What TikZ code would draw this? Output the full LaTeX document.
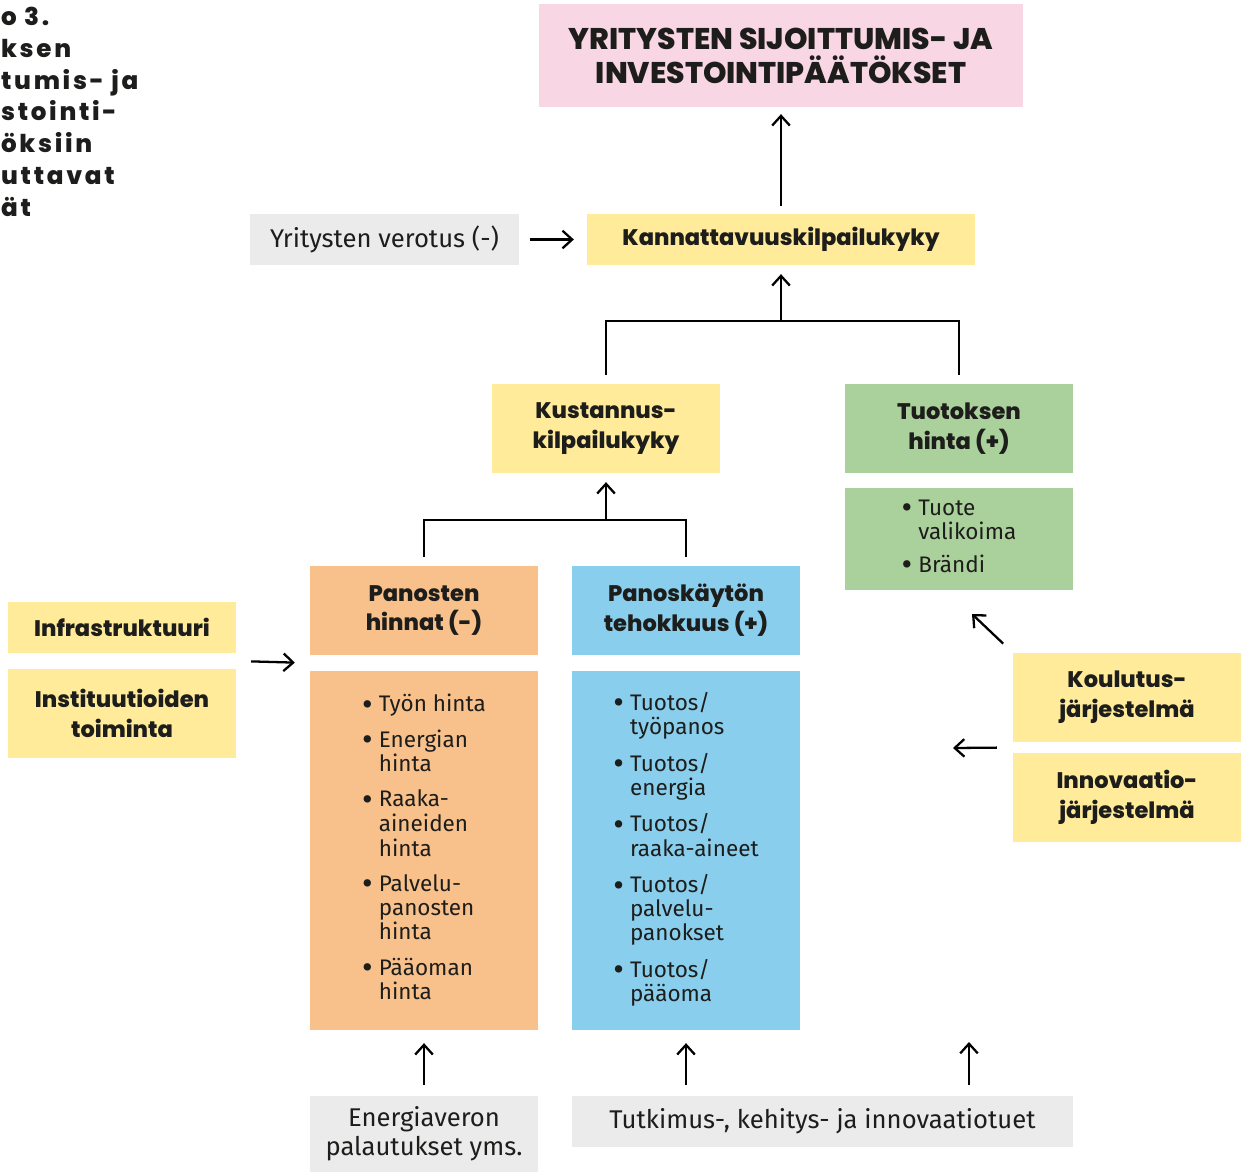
\documentclass[tikz,border=0pt]{standalone}
\usepackage{fontspec}
\usepackage{graphicx}
\setmainfont{Fira Sans}
\IfFontExistsTF{Poppins ExtraBold}
  {\newfontfamily\headfont{Poppins ExtraBold}
   \newfontfamily\titlefont{Poppins ExtraBold}[LetterSpace=11]}
  {\newfontfamily\headfontbase{Poppins}
   \newfontfamily\titlefontbase{Poppins}[LetterSpace=11]
   \newcommand{\headfont}{\headfontbase\bfseries}
   \newcommand{\titlefont}{\titlefontbase\bfseries}}
\usepackage{tikz}
\usetikzlibrary{
  arrows.meta,
  positioning,
  calc
}
\usepackage{xcolor}
\definecolor{pinkBox}{RGB}{248,214,228}
\definecolor{yellowBox}{RGB}{255,235,153}
\definecolor{greenBox}{RGB}{170,208,155}
\definecolor{orangeBox}{RGB}{248,193,139}
\definecolor{blueBox}{RGB}{137,206,236}
\definecolor{grayBox}{RGB}{235,235,235}
\definecolor{ink}{RGB}{29,29,27}
\newcommand{\bul}{\raisebox{-2pt}{\scalebox{1.45}{\textbullet}}}
\tikzset{
  box/.style={
    inner sep=0pt,
    align=center,
    text=ink,
    minimum width=4.56cm,
    minimum height=1.78cm,
    font=\headfont\fontsize{12.8}{17}\selectfont
  },
  listbox/.style={
    box,
    font=\fontsize{12.8}{13.6}\selectfont
  },
  plainbox/.style={
    box,
    fill=grayBox,
    font=\fontsize{14.6}{16.4}\selectfont
  }
}

\begin{document}
\begin{tikzpicture}[
      >={Straight Barb[length=5.5pt,width=10pt]},
      line width=1.3pt
      ]
      \useasboundingbox (0,0) rectangle (24.84,-23.46);

      \node[anchor=north west, inner sep=0pt, align=left, text=ink,
        font=\titlefont\fontsize{14}{18.1}\selectfont] (title) at (0,-0.12)
        {o 3.\\ksen\\tumis- ja\\stointi-\\öksiin\\uttavat\\ät};

      % top
      \node[box, fill=pinkBox, minimum width=9.68cm, minimum height=2.06cm,
        font=\headfont\fontsize{17}{19.4}\selectfont] (goal) at (15.62,-1.11)
        {YRITYSTEN SIJOITTUMIS- JA\\INVESTOINTIPÄÄTÖKSET};
      \node[box, fill=yellowBox, minimum width=7.76cm, minimum height=1.02cm] (kan) at (15.62,-4.79) {Kannattavuuskilpailukyky};
      \node[plainbox, minimum width=5.38cm, minimum height=1.02cm] (tax) at (7.69,-4.79) {Yritysten verotus (-)};

      % middle
      \node[box, fill=yellowBox] (kust) at (12.12,-8.57) {Kustannus-\\kilpailukyky};
      \node[box, fill=greenBox] (hinta) at (19.18,-8.57) {Tuotoksen\\hinta (+)};
      \node[listbox, fill=greenBox, minimum height=2.04cm] (brand) at (19.18,-10.78) {%
        \begin{tabular}{@{}l@{\hspace{3.5pt}}l@{}}
        \bul & Tuote\\ & valikoima\\[4.5pt]
        \bul & Brändi
        \end{tabular}};

      \node[box, fill=orangeBox] (panh) at (8.48,-12.21) {Panosten\\hinnat (-)};
      \node[box, fill=blueBox] (pank) at (13.72,-12.21) {Panoskäytön\\tehokkuus (+)};
      \node[listbox, fill=orangeBox, minimum height=7.18cm] (costlist) at (8.48,-17.01) {%
        \begin{tabular}{@{}l@{\hspace{3.5pt}}l@{}}
        \bul & Työn hinta\\[6.2pt]
        \bul & Energian\\ & hinta\\[6.2pt]
        \bul & Raaka-\\ & aineiden\\ & hinta\\[6.2pt]
        \bul & Palvelu-\\ & panosten\\ & hinta\\[6.2pt]
        \bul & Pääoman\\ & hinta
        \end{tabular}};
      \node[listbox, fill=blueBox, minimum height=7.18cm] (efflist) at (13.72,-17.01) {%
        \begin{tabular}{@{}l@{\hspace{3.5pt}}l@{}}
        \bul & Tuotos/\\ & työpanos\\[6.2pt]
        \bul & Tuotos/\\ & energia\\[6.2pt]
        \bul & Tuotos/\\ & raaka-aineet\\[6.2pt]
        \bul & Tuotos/\\ & palvelu-\\ & panokset\\[6.2pt]
        \bul & Tuotos/\\ & pääoma
        \end{tabular}};

      % sides
      \node[box, fill=yellowBox, minimum height=1.02cm] (infra) at (2.44,-12.55) {Infrastruktuuri};
      \node[box, fill=yellowBox] (inst) at (2.44,-14.27) {Instituutioiden\\toiminta};
      \node[box, fill=yellowBox] (koul) at (22.54,-13.95) {Koulutus-\\järjestelmä};
      \node[box, fill=yellowBox] (innov) at (22.54,-15.95) {Innovaatio-\\järjestelmä};

      % bottom
      \node[plainbox, minimum height=1.52cm] (energ) at (8.48,-22.68) {Energiaveron\\palautukset yms.};
      \node[plainbox, minimum width=10.02cm, minimum height=1.02cm] (tuki) at (16.45,-22.43) {Tutkimus-, kehitys- ja innovaatiotuet};

      \coordinate (join1) at ([yshift=-1.1cm]kan.south);
      \coordinate (join2) at ([yshift=-0.92cm]kust.south);
      \coordinate (innotip) at (19.06,-14.96);
      \coordinate (prodtip) at (19.44,-12.28);
      \coordinate (tukitip) at (19.38,-20.84);

      % connectors
      \draw[->, shorten <=0.14cm, shorten >=0.12cm] (kan) -- (goal);
      \draw[->, shorten <=0.2cm, shorten >=0.24cm] (tax) -- (kan);
      \draw[shorten <=0.16cm, shorten >=0.16cm] (kust.north) |- (join1) -| (hinta.north);
      \draw[->, shorten >=0.16cm] (join1) -- (kan.south);
      \draw[shorten <=0.16cm, shorten >=0.16cm] (panh.north) |- (join2) -| (pank.north);
      \draw[->, shorten >=0.16cm] (join2) -- (kust.south);
      \draw[->, shorten <=0.28cm, shorten >=0.28cm]
        ($(infra.south east)!.5!(inst.north east)$) -- ($(panh.south west)!.5!(costlist.north west)$);
      \draw[->, shorten <=0.3cm] ($(koul.south west)!.5!(innov.north west)$) -- (innotip);
      \draw[->, shorten <=0.24cm] (koul.north west) -- (prodtip);
      \draw[->, shorten <=0.2cm, shorten >=0.24cm] (energ) -- (costlist);
      \draw[->, shorten <=0.2cm, shorten >=0.24cm] (tuki.north -| efflist.south) -- (efflist.south);
      \draw[->, shorten <=0.2cm] (tuki.north -| tukitip) -- (tukitip);
    \end{tikzpicture}
\end{document}
